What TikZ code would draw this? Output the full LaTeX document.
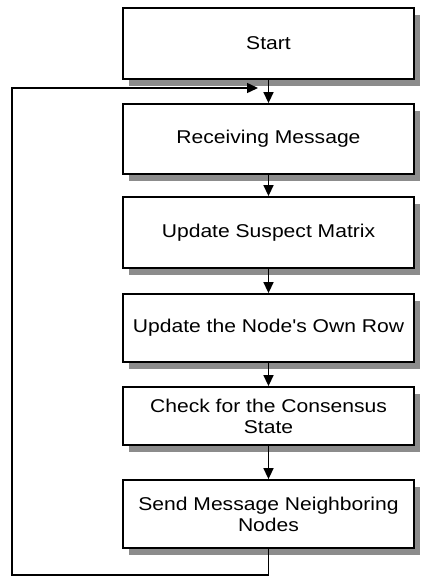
\documentclass[tikz,border=0pt]{standalone}
\usepackage{fontspec}
\newfontfamily\boxfont{Liberation Sans}[FakeStretch=1.14]
\usetikzlibrary{arrows.meta,shadows}
\begin{document}
\begin{tikzpicture}[x=1bp,y=-1bp,
  flowbox/.style={draw=black, line width=1.8bp, fill=white, minimum width=291bp,
    align=center, inner sep=2bp,
    font=\boxfont\fontsize{18.5bp}{21bp}\selectfont,
    drop shadow={shadow xshift=6bp, shadow yshift=-7bp, fill=black!45, opacity=1}},
  link/.style={line width=1.5bp, -{Triangle[length=11bp,width=10bp]}}]
\useasboundingbox (0,0) rectangle (423,577);
\node[flowbox, minimum height=71bp] (start) at (268.5,43.5) {Start};
\node[flowbox, minimum height=70bp] (recv) at (268.5,139) {Receiving Message};
\node[flowbox, minimum height=71bp] (susp) at (268.5,232.5) {Update Suspect Matrix};
\node[flowbox, minimum height=68bp] (own) at (268.5,328) {Update the Node's Own Row};
\node[flowbox, minimum height=58bp] (check) at (268.5,416) {Check for the Consensus\\State};
\node[flowbox, minimum height=68bp] (send) at (268.5,514) {Send Message Neighboring\\Nodes};
\draw[link] (start) -- (recv);
\draw[link] (recv) -- (susp);
\draw[link] (susp) -- (own);
\draw[link] (own) -- (check);
\draw[link] (check) -- (send);
\coordinate (b1) at (268.5,575);
\coordinate (b2) at (12,575);
\coordinate (b3) at (12,88);
\coordinate (b4) at (258,88);
\draw[link] (send.south) -- (b1) -- (b2) -- (b3) -- (b4);
\end{tikzpicture}
\end{document}
